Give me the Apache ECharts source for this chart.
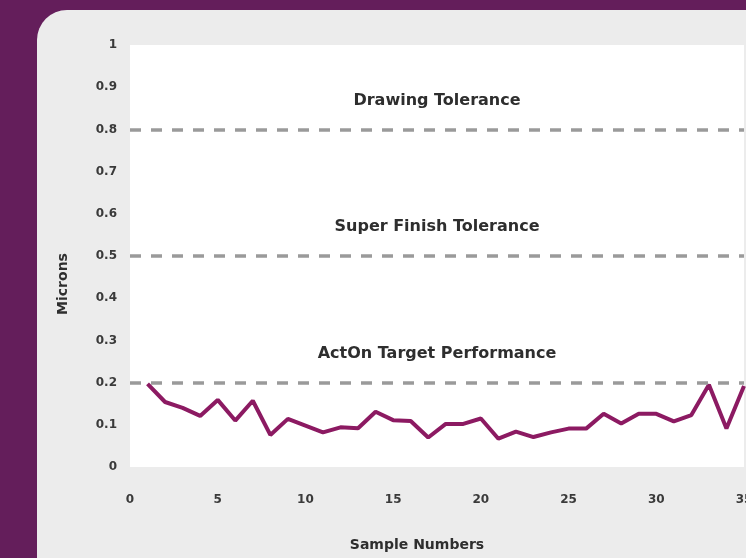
<!DOCTYPE html>
<html>
<head>
<meta charset="utf-8">
<script src="https://cdn.jsdelivr.net/npm/echarts@6/dist/echarts.min.js"></script>
<style>
    html, body { margin: 0; padding: 0; }
    #chart { width: 746px; height: 558px; }
</style>
</head>
<body>
<div id="chart"></div>
<script>
// sample numbers and measured roughness (microns)
var sampleNumbers = [1, 2, 3, 4, 5, 6, 7, 8, 9, 10, 11, 12, 13, 14, 15, 16, 17, 18,
    19, 20, 21, 22, 23, 24, 25, 26, 27, 28, 29, 30, 31, 32, 33, 34, 35];
var microns = [0.197, 0.154, 0.14, 0.121, 0.159, 0.11, 0.157, 0.076, 0.114, 0.098, 0.082, 0.094,
    0.092, 0.131, 0.111, 0.109, 0.07, 0.102, 0.102, 0.115, 0.067, 0.084, 0.071, 0.082,
    0.091, 0.091, 0.126, 0.103, 0.126, 0.126, 0.108, 0.123, 0.195, 0.091, 0.192];
// reference lines
var toleranceNames = ['Drawing Tolerance', 'Super Finish Tolerance', 'ActOn Target Performance'];
var toleranceValues = [0.8, 0.5, 0.2];

var myChart = echarts.init(document.getElementById('chart'));

var points = [];
for (var i = 0; i < sampleNumbers.length; i++) {
    points.push([sampleNumbers[i], microns[i]]);
}
var lines = [];
for (var j = 0; j < toleranceValues.length; j++) {
    lines.push({ name: toleranceNames[j], yAxis: toleranceValues[j] });
}

var font = 'DejaVu Sans';
var option = {
    backgroundColor: '#641e5b',
    animation: false,
    graphic: [
        {
            type: 'rect',
            z: -10,
            shape: { x: 37, y: 10, width: 760, height: 600, r: [30, 0, 0, 14] },
            style: { fill: '#ececec' }
        }
    ],
    grid: {
        left: 130,
        right: 2,
        top: 45,
        bottom: 91,
        outerBoundsMode: 'none',
        show: true,
        backgroundColor: '#ffffff',
        borderWidth: 0
    },
    xAxis: {
        type: 'value',
        min: 0,
        max: 35,
        interval: 5,
        name: 'Sample Numbers',
        nameLocation: 'middle',
        nameGap: 71,
        // title sits a bit left of the plot centre
        nameTextStyle: { color: '#2e2e2e', fontFamily: font, fontWeight: 'bold', fontSize: 14, padding: [0, 40, 0, 0] },
        axisLine: { show: false },
        axisTick: { show: false },
        splitLine: { show: false },
        axisLabel: { color: '#3a3a3a', fontFamily: font, fontWeight: 'bold', fontSize: 12, margin: 27 }
    },
    yAxis: {
        type: 'value',
        min: 0,
        max: 1,
        interval: 0.1,
        name: 'Microns',
        nameLocation: 'middle',
        nameGap: 60,
        // pushed down from the centre like the original
        nameTextStyle: { color: '#2e2e2e', fontFamily: font, fontWeight: 'bold', fontSize: 14, padding: [0, 56, 0, 0] },
        axisLine: { show: false },
        axisTick: { show: false },
        splitLine: { show: false },
        axisLabel: { color: '#3a3a3a', fontFamily: font, fontWeight: 'bold', fontSize: 12, margin: 13 }
    },
    series: [
        {
            type: 'line',
            data: points,
            symbol: 'none',
            lineStyle: { color: '#8c1a62', width: 4 },
            markLine: {
                silent: true,
                symbol: 'none',
                lineStyle: { color: '#9a9a9a', width: 3.5, type: [11, 10] },
                label: {
                    show: true,
                    position: 'insideMiddleTop',
                    distance: 21,
                    formatter: '{b}',
                    color: '#2e2e2e',
                    fontFamily: font,
                    fontWeight: 'bold',
                    fontSize: 16
                },
                data: lines
            },
            z: 3
        }
    ]
};
myChart.setOption(option);
</script>
</body>
</html>
